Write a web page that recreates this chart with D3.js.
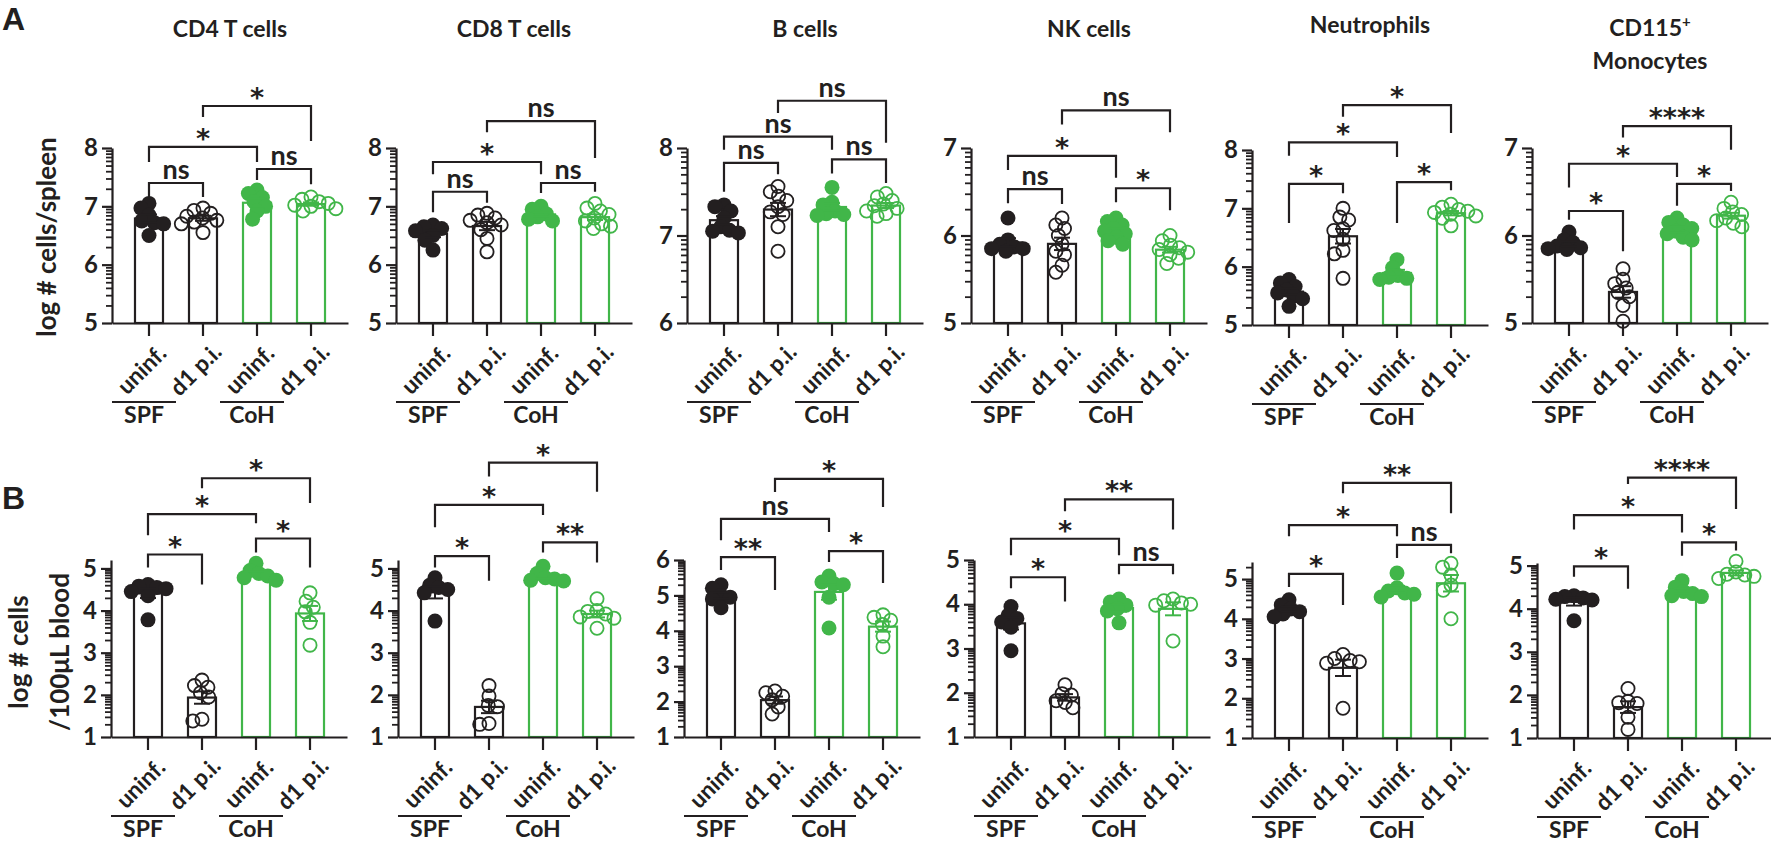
<!DOCTYPE html>
<html><head><meta charset="utf-8">
<script src="https://cdn.jsdelivr.net/npm/d3@7"></script>
<style>
body{margin:0;background:#fff}
svg{display:block}
</style>
</head><body>
<svg id="chart" width="1771" height="843" font-family="Lato, 'Open Sans', sans-serif"></svg>
<script>
// ---------------- DATA ----------------
const groups = ["SPF uninf.", "SPF d1 p.i.", "CoH uninf.", "CoH d1 p.i."];
const groupLabels = ["uninf.", "d1 p.i.", "uninf.", "d1 p.i."];
const cohorts = ["SPF", "CoH"];
const cellTypes = ["CD4 T cells", "CD8 T cells", "B cells", "NK cells", "Neutrophils", "CD115+ Monocytes"];

// log # cells / spleen  (groups: SPF uninf, SPF d1, CoH uninf, CoH d1)
const spleenCD4 = [[7.05,6.97,6.85,6.75,6.72,6.70,6.50],[6.97,6.93,6.88,6.83,6.80,6.76,6.73,6.70,6.55],[7.28,7.22,7.15,7.08,7.00,6.92,6.78],[7.16,7.12,7.08,7.05,7.02,7.00,6.96,6.92]];
const spleenCD8 = [[6.68,6.65,6.62,6.58,6.50,6.42,6.25],[6.88,6.85,6.80,6.76,6.72,6.68,6.60,6.45,6.22],[7.00,6.95,6.87,6.82,6.78,6.75],[7.05,6.97,6.92,6.86,6.80,6.75,6.70,6.66,6.62]];
const spleenB   = [[7.35,7.33,7.28,7.20,7.10,7.06,7.05,7.03],[7.56,7.50,7.45,7.40,7.33,7.27,7.24,7.10,6.82],[7.55,7.38,7.35,7.28,7.25,7.24,7.23],[7.48,7.44,7.40,7.36,7.34,7.31,7.28,7.25,7.22]];
const spleenNK  = [[6.20,5.95,5.90,5.87,5.85,5.85,5.82],[6.20,6.12,6.08,6.00,5.90,5.82,5.78,5.66,5.58],[6.20,6.16,6.12,6.08,6.05,6.02,5.98,5.94,5.90],[6.00,5.94,5.89,5.86,5.84,5.81,5.78,5.74,5.68]];
const spleenNeut= [[5.78,5.72,5.66,5.60,5.55,5.50,5.45,5.32],[7.00,6.85,6.80,6.65,6.62,6.47,6.28,6.22,5.80],[6.12,5.98,5.85,5.82,5.80,5.78],[7.07,7.02,6.98,6.95,6.93,6.90,6.87,6.83,6.70]];
const spleenMono= [[6.04,5.95,5.92,5.88,5.86,5.85,5.84],[5.62,5.50,5.45,5.40,5.35,5.30,5.20,5.02],[6.20,6.15,6.12,6.08,6.05,6.02,5.98,5.95],[6.38,6.31,6.27,6.24,6.20,6.17,6.14,6.10]];

// log # cells / 100 uL blood
const bloodCD4 = [[4.62,4.58,4.55,4.52,4.45,4.35,3.78],[2.35,2.22,2.18,2.05,1.95,1.42,1.38],[5.12,4.95,4.88,4.82,4.78,4.72],[4.42,4.22,4.08,3.97,3.72,3.18]];
const bloodCD8 = [[4.78,4.60,4.55,4.50,4.42,3.75],[2.22,1.97,1.75,1.72,1.32,1.30],[5.05,4.88,4.78,4.75,4.72,4.70],[4.28,4.00,3.98,3.92,3.85,3.82,3.58]];
const bloodB   = [[5.30,5.20,5.00,4.95,4.90,4.65],[2.30,2.25,2.15,2.05,1.85,1.65],[5.55,5.38,5.33,5.30,4.95,4.08],[4.45,4.38,4.30,4.18,3.85,3.55]];
const bloodNK  = [[3.95,3.75,3.68,3.60,3.48,2.95],[2.18,1.98,1.95,1.82,1.78,1.66],[4.12,4.05,3.98,3.90,3.85,3.58],[4.12,4.08,4.03,4.00,3.98,3.17]];
const bloodNeut= [[4.48,4.35,4.25,4.18,4.12,4.05],[3.10,3.00,2.95,2.92,2.88,1.75],[5.15,4.78,4.70,4.65,4.62,4.55],[5.40,5.30,5.10,4.85,4.72,4.00]];
const bloodMono= [[4.30,4.28,4.25,4.22,4.20,3.72],[2.15,1.85,1.82,1.80,1.48,1.20],[4.65,4.50,4.40,4.35,4.30,4.28],[5.10,4.85,4.80,4.78,4.75,4.70]];

// y-axis domains
const spleenDomains = [[5,8],[5,8],[6,8],[5,7],[5,8],[5,7]];
const bloodDomains  = [[1,5.2],[1,5.2],[1,6],[1,5],[1,5.43],[1,5.06]];

// comparisons: [groupA, groupB]  order: SPF uninf vs d1, CoH uninf vs d1, uninf SPF vs CoH, d1 SPF vs CoH
const comparisons = [[0,1],[2,3],[0,2],[1,3]];
const spleenSig = [["ns","ns","*","*"],["ns","ns","*","ns"],["ns","ns","ns","ns"],["ns","*","*","ns"],["*","*","*","*"],["*","*","*","****"]];
const bloodSig  = [["*","*","*","*"],["*","**","*","*"],["**","*","ns","*"],["*","ns","*","**"],["*","ns","*","**"],["*","*","*","****"]];
// bracket [bar level, left leg end, right leg end] in axis units
const spleenBrackets = [
  [[7.40,7.11,7.16],[7.64,7.45,7.38],[8.02,7.76,7.76],[8.72,8.53,8.12]],
  [[7.25,6.90,7.06],[7.40,7.23,7.25],[7.76,7.55,7.55],[8.46,8.27,7.83]],
  [[7.83,7.50,7.70],[7.87,7.71,7.60],[8.13,7.98,7.98],[8.54,8.40,8.06]],
  [[6.53,6.37,6.36],[6.54,6.38,6.29],[6.91,6.75,6.66],[7.43,7.27,7.18]],
  [[7.42,6.75,7.26],[7.45,6.75,7.31],[8.13,7.90,7.88],[8.77,8.57,8.29]],
  [[6.28,6.18,5.82],[6.59,6.34,6.51],[6.82,6.55,6.67],[7.25,7.12,6.98]]
];
const bloodBrackets = [
  [[5.33,5.02,4.62],[5.71,5.38,5.02],[6.29,5.79,6.07],[7.14,6.90,6.55]],
  [[5.29,5.02,4.71],[5.62,5.38,5.14],[6.51,5.98,6.27],[7.51,7.18,6.82]],
  [[6.08,5.72,5.15],[6.25,5.94,5.35],[7.16,6.56,6.79],[8.29,7.92,7.50]],
  [[4.61,4.36,4.06],[4.89,4.68,4.68],[5.48,5.11,5.11],[6.37,6.10,5.69]],
  [[5.13,4.80,4.35],[5.86,5.53,5.65],[6.36,6.08,6.08],[7.42,7.16,6.66]],
  [[4.98,4.74,4.46],[5.54,5.23,5.35],[6.17,5.84,5.77],[7.04,6.89,6.31]]
];

const spleenData = [spleenCD4, spleenCD8, spleenB, spleenNK, spleenNeut, spleenMono];
const bloodData  = [bloodCD4, bloodCD8, bloodB, bloodNK, bloodNeut, bloodMono];

// ---------------- STYLE / LAYOUT ----------------
const BLACK = "#231f20", GREEN = "#41b649";
const groupColor = [BLACK, BLACK, GREEN, GREEN];
const groupFilled = [true, false, true, false];
const R = 7.5;

const svg = d3.select("#chart");
svg.append("rect").attr("width", 1771).attr("height", 843).attr("fill", "#fff");

const rows = [
  { data: spleenData, domains: spleenDomains, sig: spleenSig, brackets: spleenBrackets,
    axisX: [112, 396, 687, 971, 1252, 1532], yTop: [148,148,148,148,150,148], yBot: [323,323,323,323,325,323] },
  { data: bloodData, domains: bloodDomains, sig: bloodSig, brackets: bloodBrackets,
    axisX: [111, 398, 684, 974, 1252, 1537], yTop: [560,560,560,560,562,563], yBot: [737,737,737,737,738,738] }
];

function mean(a){ return d3.mean(a); }
function sem(a){ return d3.deviation(a) / Math.sqrt(a.length); }

function swarm(values, y, cx) {
  const d = 2 * R * 0.62;
  const pts = values.map(v => ({ v, py: y(v) })).sort((a, b) => a.py - b.py);
  const placed = [];
  for (const p of pts) {
    const cands = [0];
    for (const q of placed) {
      const dy = Math.abs(q.py - p.py);
      if (dy < d) { const dx = Math.sqrt(d * d - dy * dy); cands.push(q.x + dx, q.x - dx); }
    }
    cands.sort((a, b) => Math.abs(a) - Math.abs(b) || a - b);
    for (const c of cands) {
      if (placed.every(q => (q.x - c) ** 2 + (q.py - p.py) ** 2 >= d * d - 0.01)) { p.x = c; break; }
    }
    placed.push(p);
  }
  return placed.map(p => ({ v: p.v, x: cx + p.x, y: p.py }));
}

function drawPanel(row, i) {
  const ax = row.axisX[i], yBot = row.yBot[i], yTop = row.yTop[i];
  const [ymin, ymax] = row.domains[i];
  const g = svg.append("g");
  const y = d3.scaleLinear().domain([ymin, ymax]).range([yBot, yTop]);
  const x = d3.scaleBand().domain(groups).range([ax, ax + 236]).padding(0.37);
  const cx = gname => x(gname) + x.bandwidth() / 2;
  const bw = 28;

  // minor log ticks
  const minors = [];
  for (let k = Math.floor(ymin); k < ymax; k++) for (let m = 2; m <= 9; m++) { const v = k + Math.log10(m); if (v <= ymax) minors.push(v); }
  const majors = d3.range(Math.ceil(ymin), Math.floor(ymax) + 1);
  g.append("g").attr("transform", `translate(${ax},0)`)
    .call(d3.axisLeft(y).tickValues(minors).tickSize(6).tickSizeOuter(0).tickFormat(""))
    .call(s => s.select(".domain").remove())
    .call(s => s.selectAll("line").attr("stroke", BLACK).attr("stroke-width", 1.8));
  g.append("g").attr("transform", `translate(${ax},0)`)
    .call(d3.axisLeft(y).tickValues(majors).tickSize(10).tickSizeOuter(0).tickPadding(4).tickFormat(d3.format("d")))
    .call(s => s.select(".domain").attr("stroke", BLACK).attr("stroke-width", 2.2))
    .call(s => s.selectAll("line").attr("stroke", BLACK).attr("stroke-width", 2.2))
    .call(s => s.selectAll("text").attr("fill", BLACK).attr("font-size", 24).attr("font-weight", 700).style("font-family", "Lato"));

  // bars
  groups.forEach((gn, j) => {
    const vals = row.data[i][j];
    const m = mean(vals);
    g.append("rect").attr("x", cx(gn) - bw / 2).attr("y", y(m)).attr("width", bw).attr("height", yBot - y(m))
      .attr("fill", "#fff").attr("stroke", groupColor[j]).attr("stroke-width", 2.2);
  });

  // x axis
  g.append("g").attr("transform", `translate(0,${yBot})`)
    .call(d3.axisBottom(x).tickSize(13).tickSizeOuter(0).tickFormat(""))
    .call(s => s.select(".domain").attr("stroke", BLACK).attr("stroke-width", 2.2))
    .call(s => s.selectAll("line").attr("stroke", BLACK).attr("stroke-width", 2.2));

  // points
  groups.forEach((gn, j) => {
    const pts = swarm(row.data[i][j], y, cx(gn));
    g.selectAll(null).data(pts).join("circle")
      .attr("cx", d => d.x).attr("cy", d => d.y)
      .attr("r", groupFilled[j] ? R : R - 0.9)
      .attr("fill", groupFilled[j] ? groupColor[j] : "none")
      .attr("stroke", groupColor[j]).attr("stroke-width", groupFilled[j] ? 0 : 1.8);
  });

  // error bars (mean ± SEM)
  groups.forEach((gn, j) => {
    const vals = row.data[i][j];
    const m = mean(vals), s = sem(vals), c = cx(gn);
    const eg = g.append("g").attr("stroke", groupColor[j]).attr("stroke-width", 2);
    eg.append("line").attr("x1", c).attr("x2", c).attr("y1", y(m - s)).attr("y2", y(m + s));
    eg.append("line").attr("x1", c - 8).attr("x2", c + 8).attr("y1", y(m + s)).attr("y2", y(m + s));
    eg.append("line").attr("x1", c - 8).attr("x2", c + 8).attr("y1", y(m - s)).attr("y2", y(m - s));
  });

  // brackets
  comparisons.forEach((cmp, k) => {
    const [lvl, l1, l2] = row.brackets[i][k];
    const x1 = cx(groups[cmp[0]]), x2 = cx(groups[cmp[1]]);
    g.append("path").attr("d", `M${x1},${y(l1)}V${y(lvl)}H${x2}V${y(l2)}`)
      .attr("fill", "none").attr("stroke", BLACK).attr("stroke-width", 2.2);
    const lab = row.sig[i][k];
    const isNs = lab === "ns";
    g.append("text").attr("x", (x1 + x2) / 2).attr("y", y(lvl) + (isNs ? -4 : 1))
      .attr("text-anchor", "middle").attr("fill", BLACK)
      .style("font-family", isNs ? "Lato" : "'DejaVu Sans'")
      .attr("font-size", 27).attr("font-weight", 700).text(lab);
  });

  // category labels
  groups.forEach((gn, j) => {
    const c = cx(gn) - 8, yy = yBot + 46;
    g.append("text").attr("transform", `translate(${c},${yy}) rotate(-45)`)
      .attr("text-anchor", "middle").attr("dominant-baseline", "central")
      .attr("fill", BLACK).attr("font-size", 23).attr("font-weight", 700).text(groupLabels[j]);
  });

  // cohort lines
  cohorts.forEach((co, k) => {
    const mid = (cx(groups[2 * k]) + cx(groups[2 * k + 1])) / 2;
    const ly = yBot + 79;
    g.append("line").attr("x1", mid - 64).attr("x2", mid).attr("y1", ly).attr("y2", ly)
      .attr("stroke", BLACK).attr("stroke-width", 2);
    g.append("text").attr("x", mid - 32).attr("y", ly + 21).attr("text-anchor", "middle")
      .attr("fill", BLACK).attr("font-size", 23).attr("font-weight", 700).text(co);
  });

  return { cx, x };
}

rows.forEach((row, r) => {
  for (let i = 0; i < 6; i++) {
    const p = drawPanel(row, i);
    if (r === 0) {
      const tc = (p.cx(groups[0]) + p.cx(groups[3])) / 2;
      const t = svg.append("text").attr("x", tc).attr("text-anchor", "middle").attr("fill", BLACK)
        .attr("font-size", 23).attr("font-weight", 700);
      if (i === 5) {
        const parts = cellTypes[i].split(" ");
        t.attr("y", 36);
        t.append("tspan").text("CD115");
        t.append("tspan").attr("font-size", 15).attr("dy", -9).text("+");
        svg.append("text").attr("x", tc).attr("y", 69).attr("text-anchor", "middle").attr("fill", BLACK)
          .attr("font-size", 23).attr("font-weight", 700).text(parts[1]);
      } else {
        t.attr("y", i === 4 ? 33 : 37).text(cellTypes[i]);
      }
    }
  }
});

// y-axis titles
svg.append("text").attr("transform", "translate(56,237) rotate(-90)").attr("text-anchor", "middle")
  .attr("fill", BLACK).attr("font-size", 26).attr("font-weight", 700).text("log # cells/spleen");
svg.append("text").attr("transform", "translate(28,652) rotate(-90)").attr("text-anchor", "middle")
  .attr("fill", BLACK).attr("font-size", 26).attr("font-weight", 700).text("log # cells");
svg.append("text").attr("transform", "translate(69,652) rotate(-90)").attr("text-anchor", "middle")
  .attr("fill", BLACK).attr("font-size", 26).attr("font-weight", 700).text("/100μL blood");

// panel letters
svg.append("text").attr("x", 2).attr("y", 30).attr("fill", BLACK).attr("font-size", 32)
  .attr("font-weight", 700).style("font-family", "'Liberation Sans'").text("A");
svg.append("text").attr("x", 2).attr("y", 509).attr("fill", BLACK).attr("font-size", 32)
  .attr("font-weight", 700).style("font-family", "'Liberation Sans'").text("B");
</script>
</body></html>
